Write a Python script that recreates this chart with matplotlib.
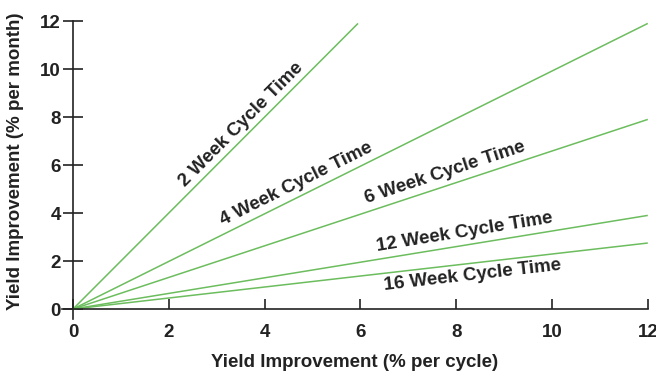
import numpy as np
import matplotlib
matplotlib.use("Agg")
from matplotlib import pyplot as plt

# cycle time lines (end points of each line)
labels = ["2 Week Cycle Time", "4 Week Cycle Time", "6 Week Cycle Time",
          "12 Week Cycle Time", "16 Week Cycle Time"]
x_end = [5.95, 12, 12, 12, 12]
y_end = [11.9, 11.9, 7.9, 3.9, 2.75]
label_x = [3.64, 4.74, 7.83, 8.2, 8.33]
label_below = [False, False, False, False, True]

xticks = [0, 2, 4, 6, 8, 10, 12]
yticks = [0, 2, 4, 6, 8, 10, 12]

plt.rcParams['font.family'] = ['Liberation Sans', 'DejaVu Sans']
plt.rcParams['font.weight'] = 'bold'

green = '#6cbd5e'
ink = '#222222'

fig = plt.figure(figsize=(6.56, 3.72), dpi=100)
ax = fig.add_axes([0.0945, 0.1435, 0.893, 0.80])
ax.set_xlim(-0.23, 12)
ax.set_ylim(-0.4, 12)

for name, xe, ye, lx, below in zip(labels, x_end, y_end, label_x, label_below):
    ax.plot([0, xe], [0, ye], color=green, lw=1.1, solid_capstyle='butt')
    slope = ye / xe
    ly = slope * lx
    ang_data = np.degrees(np.arctan2(ye, xe))
    ang = ax.transData.transform_angles(np.array([ang_data]),
                                        np.array([[lx, ly]]))[0]
    ax.annotate(name, (lx, ly), xytext=(0, -3 if below else 3),
                textcoords='offset points', ha='center',
                va='top' if below else 'bottom',
                rotation=ang, rotation_mode='anchor',
                fontsize=13.5, fontweight='bold', color=ink)

ax.spines['left'].set_position(('data', 0))
ax.spines['bottom'].set_position(('data', 0))
ax.spines['top'].set_visible(False)
ax.spines['right'].set_visible(False)
for s in ['left', 'bottom']:
    ax.spines[s].set_color(ink)
    ax.spines[s].set_linewidth(1.2)
    ax.spines[s].set_bounds(-0.23 if s == 'bottom' else -0.4, 12)

ax.set_xticks(xticks)
ax.set_yticks(yticks)
ax.tick_params(axis='x', direction='in', length=7.5, width=1.2, pad=11,
               colors=ink, labelsize=13.5)
ax.tick_params(axis='y', direction='inout', length=14.5, width=1.2, pad=1.5,
               colors=ink, labelsize=13.5)
for t in ax.get_xticklabels() + ax.get_yticklabels():
    t.set_fontweight('bold')

ax.set_xlabel("Yield Improvement (% per cycle)", fontsize=13.5,
              fontweight='bold', color=ink)
ax.set_ylabel("Yield Improvement (% per month)", fontsize=13.5,
              fontweight='bold', color=ink)
ax.xaxis.set_label_coords(0.5, -0.12)
ax.yaxis.set_label_coords(-0.065, 0.53)
ax.patch.set_visible(False)

fig.savefig("out.png", dpi=100)
